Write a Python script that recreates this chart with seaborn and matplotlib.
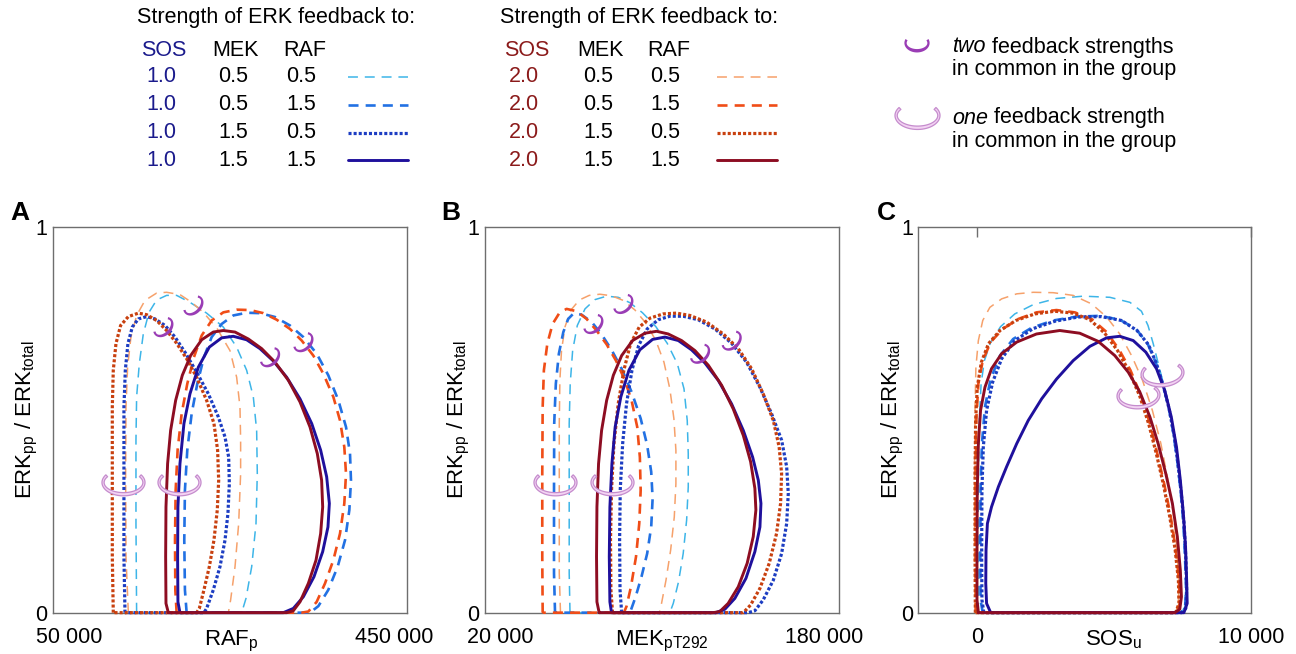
import numpy as np
import seaborn as sns
import matplotlib
matplotlib.use("Agg")
import matplotlib.pyplot as plt
import matplotlib.transforms as mtransforms
from matplotlib.path import Path
from matplotlib.markers import MarkerStyle

sns.set_style("white")
plt.rcParams["font.family"] = ["Liberation Sans", "DejaVu Sans"]
plt.rcParams["mathtext.fontset"] = "custom"
plt.rcParams["mathtext.rm"] = "Liberation Sans"
plt.rcParams["mathtext.it"] = "Liberation Sans:italic"
plt.rcParams["mathtext.bf"] = "Liberation Sans:bold"
plt.rcParams["text.color"] = "black"
plt.rcParams["axes.labelcolor"] = "black"

# feedback strengths of the eight curves (ERK -> SOS, MEK, RAF)
sos_fb = ["1.0", "1.0", "1.0", "1.0", "2.0", "2.0", "2.0", "2.0"]
mek_fb = ["0.5", "0.5", "1.5", "1.5", "0.5", "0.5", "1.5", "1.5"]
raf_fb = ["0.5", "1.5", "0.5", "1.5", "0.5", "1.5", "0.5", "1.5"]
colors = ["#3db5e8", "#2271e3", "#1c3dc2", "#1f109c",
          "#f6a16b", "#f04d17", "#c8400f", "#8d0d22"]
styles = [(0, (6.5, 4.5)), (0, (3.8, 2.7)), (0, (0.95, 0.65)), "-",
          (0, (6.5, 4.5)), (0, (3.8, 2.7)), (0, (0.95, 0.65)), "-"]
widths = [1.1, 1.9, 2.3, 2.1, 1.1, 1.9, 2.3, 2.1]
draw_order = [0, 4, 1, 5, 2, 6, 3, 7]

# ---- panel A: RAF_p (thousands) vs ERKpp/ERKtotal
a_s1_m05_r05 = [(133.2, 0), (132.4, .231), (132.4, .447), (133.2, .559), (136.5, .645), (141.4, .722),
                (148.4, .778), (157.8, .810), (170.1, .822), (182.4, .822), (198.8, .804), (219.3, .776),
                (239.8, .740), (256.2, .688), (268.5, .628), (276.7, .559), (280.8, .472), (281.6, .360),
                (280.0, .231), (274.7, .119), (267.7, .037), (262.4, 0)]
a_s1_m05_r15 = [(194.7, 0), (192.6, .059), (191.8, .188), (192.6, .317), (195.5, .421), (200.9, .516),
                (207.8, .593), (216.0, .662), (225.5, .714), (237.8, .748), (252.1, .770), (268.5, .777),
                (284.9, .776), (303.4, .766), (321.8, .744), (338.2, .714), (354.6, .671), (368.9, .615),
                (381.3, .550), (390.7, .481), (395.6, .412), (396.8, .343), (394.8, .266), (389.5, .188),
                (380.4, .119), (368.9, .059), (356.7, .017), (346.4, 0)]
a_s1_m15_r05 = [(118.9, 0), (117.6, .145), (117.6, .360), (117.6, .533), (119.3, .628), (122.5, .697),
                (127.9, .740), (135.3, .761), (145.5, .767), (155.8, .761), (168.1, .744), (180.4, .714),
                (192.6, .675), (207.0, .623), (221.4, .567), (233.7, .507), (241.9, .455), (246.4, .403),
                (247.2, .334), (245.5, .257), (241.9, .188), (235.7, .119), (227.5, .059), (219.3, .011),
                (216.0, 0)]
a_s1_m15_r15 = [(186.5, 0), (184.0, .028), (183.6, .145), (184.0, .274), (186.5, .386), (191.4, .490),
                (198.8, .567), (209.1, .636), (222.6, .688), (237.8, .712), (252.1, .716), (268.5, .707),
                (284.9, .684), (301.3, .652), (317.7, .610), (334.1, .554), (348.5, .490), (359.5, .421),
                (366.9, .352), (370.2, .283), (368.5, .222), (362.0, .158), (351.3, .093), (338.2, .041),
                (325.9, .011), (313.6, 0)]
a_s2_m05_r05 = [(123.0, 0), (120.1, .145), (119.7, .360), (120.1, .533), (122.1, .636), (126.2, .714),
                (133.2, .770), (143.5, .809), (157.8, .828), (170.1, .830), (186.5, .824), (200.9, .804),
                (215.2, .778), (231.6, .738), (248.0, .679), (256.2, .610), (260.3, .533), (261.1, .447),
                (261.1, .360), (258.7, .231), (254.2, .119), (248.8, .033), (246.0, 0)]
a_s2_m05_r15 = [(182.4, 0), (180.8, .059), (180.4, .188), (181.2, .317), (183.6, .421), (188.6, .516),
                (195.5, .593), (203.7, .662), (213.2, .718), (225.5, .757), (239.8, .778), (256.2, .785),
                (272.6, .784), (289.0, .776), (305.4, .759), (321.8, .735), (336.2, .705), (350.5, .666),
                (362.8, .619), (375.1, .559), (383.3, .498), (388.6, .429), (390.7, .360), (388.6, .283),
                (383.3, .205), (375.1, .136), (364.9, .076), (354.6, .028), (344.4, .003), (336.2, 0)]
a_s2_m15_r05 = [(104.5, 0), (103.3, .145), (103.3, .360), (103.3, .533), (104.5, .628), (107.8, .697),
                (113.5, .744), (123.0, .767), (135.3, .776), (145.5, .772), (157.8, .757), (170.1, .731),
                (182.4, .698), (194.7, .658), (207.0, .610), (219.3, .550), (228.3, .490), (232.8, .421),
                (234.1, .343), (232.4, .266), (228.3, .188), (222.6, .119), (216.0, .059), (210.3, .011),
                (207.0, 0)]
a_s2_m15_r15 = [(172.2, 0), (169.3, .024), (168.9, .145), (169.3, .274), (171.3, .386), (175.0, .472),
                (181.2, .550), (189.4, .615), (199.6, .666), (213.2, .707), (227.5, .727), (239.8, .731),
                (254.2, .727), (270.6, .709), (287.0, .684), (303.4, .649), (319.8, .602), (334.1, .546),
                (346.4, .481), (355.4, .412), (360.7, .343), (362.0, .274), (359.5, .205), (353.8, .136),
                (344.4, .076), (334.1, .028), (325.9, .005), (317.7, 0)]

# ---- panel B: MEK_pT292 (thousands)
b_s1_m05_r05 = [(54.6, 0), (54.2, .102), (54.2, .317), (54.2, .490), (54.7, .593), (55.9, .679),
                (58.2, .744), (62.0, .787), (66.9, .811), (72.7, .820), (78.4, .817), (84.2, .803),
                (90.4, .777), (97.0, .741), (102.6, .698), (107.6, .645), (110.9, .580), (112.5, .498),
                (113.0, .412), (113.0, .326), (112.2, .240), (110.5, .153), (108.2, .080), (105.6, .024),
                (103.9, 0)]
b_s1_m05_r15 = [(47.2, 0), (46.7, .102), (46.7, .317), (46.8, .490), (47.6, .593), (49.1, .671),
                (51.3, .727), (53.7, .761), (56.5, .776), (60.3, .772), (65.3, .753), (70.2, .721),
                (75.1, .681), (80.1, .632), (85.0, .572), (89.5, .503), (92.7, .434), (94.7, .365),
                (95.4, .296), (94.7, .222), (92.7, .153), (89.9, .093), (87.0, .041), (84.7, .007),
                (83.9, 0)]
b_s1_m15_r05 = [(80.1, 0), (79.3, .059), (79.1, .188), (79.4, .317), (80.6, .438), (82.5, .541),
                (85.2, .628), (88.5, .692), (92.7, .735), (98.2, .759), (103.9, .768), (110.5, .768),
                (117.9, .759), (126.2, .735), (134.4, .698), (141.8, .649), (148.4, .584), (154.1, .516),
                (159.1, .447), (161.6, .378), (162.4, .309), (161.6, .231), (159.1, .153), (155.0, .084),
                (150.0, .033), (145.9, .005), (142.6, 0)]
b_s1_m15_r15 = [(75.1, 0), (74.3, .028), (74.0, .145), (74.3, .274), (75.3, .386), (76.9, .481),
                (79.7, .559), (83.7, .628), (89.1, .681), (95.4, .708), (101.5, .714), (108.1, .705),
                (114.6, .681), (121.2, .647), (127.8, .602), (134.4, .541), (140.2, .472), (144.8, .403),
                (147.6, .343), (148.9, .283), (148.4, .222), (145.9, .158), (141.5, .089), (136.0, .037),
                (131.1, .009), (126.6, 0)]
b_s2_m05_r05 = [(49.9, 0), (49.3, .102), (49.3, .317), (49.3, .490), (49.6, .602), (50.4, .679),
                (52.1, .740), (54.9, .783), (59.2, .810), (64.1, .822), (69.4, .825), (75.1, .821),
                (80.9, .809), (86.7, .784), (92.1, .750), (97.0, .705), (101.0, .649), (103.9, .580),
                (105.9, .503), (106.9, .421), (106.9, .334), (106.1, .248), (104.3, .162), (102.0, .084),
                (99.8, .024), (98.7, 0)]
b_s2_m05_r15 = [(41.1, 0), (40.9, .145), (40.9, .360), (41.1, .533), (41.7, .628), (43.4, .697),
                (46.0, .748), (49.3, .776), (52.9, .787), (57.9, .781), (62.8, .761), (67.7, .731),
                (72.7, .695), (77.3, .653), (81.4, .606), (85.0, .550), (87.8, .481), (89.1, .403),
                (89.5, .317), (88.8, .231), (87.2, .145), (84.7, .067), (82.5, .016), (81.2, 0)]
b_s2_m15_r05 = [(75.6, 0), (74.8, .059), (74.6, .188), (75.1, .317), (76.3, .438), (78.4, .541),
                (81.2, .628), (84.5, .697), (88.8, .740), (94.1, .763), (100.6, .774), (107.2, .776),
                (113.8, .770), (122.0, .753), (130.3, .722), (137.7, .684), (144.3, .632), (150.0, .567),
                (155.0, .498), (157.9, .429), (159.1, .360), (158.6, .283), (156.6, .205), (153.0, .128),
                (148.4, .063), (143.8, .020), (140.2, 0)]
b_s2_m15_r15 = [(69.0, 0), (67.9, .028), (67.7, .145), (67.9, .274), (68.7, .386), (70.2, .472),
                (72.7, .550), (76.0, .615), (80.1, .666), (85.5, .705), (91.6, .724), (97.4, .729),
                (103.1, .722), (109.7, .705), (116.3, .679), (122.9, .641), (129.5, .589), (135.2, .528),
                (140.2, .459), (143.8, .391), (145.9, .322), (146.4, .266), (145.1, .197), (142.1, .128),
                (137.7, .067), (132.7, .024), (128.6, .003), (125.3, 0)]

# ---- panel C: SOS_u (thousands)
c_s1_m05_r05 = [(0.06, 0), (0.05, .145), (0.06, .360), (0.10, .507), (0.16, .593), (0.28, .653),
                (0.51, .701), (0.87, .741), (1.39, .774), (2.06, .798), (2.91, .814), (3.89, .820),
                (4.86, .817), (5.59, .804), (6.01, .781), (6.25, .744), (6.44, .697), (6.64, .641),
                (6.86, .580), (7.08, .507), (7.26, .429), (7.41, .343), (7.53, .257), (7.60, .162),
                (7.64, .076), (7.60, .016), (7.47, 0)]
c_s1_m05_r15 = [(0.22, 0), (0.14, .033), (0.13, .145), (0.14, .317), (0.19, .438), (0.30, .533),
                (0.51, .606), (0.85, .666), (1.33, .709), (2.00, .738), (2.79, .757), (3.64, .767),
                (4.49, .769), (5.22, .759), (5.81, .735), (6.23, .698), (6.53, .649), (6.78, .595),
                (7.00, .533), (7.18, .464), (7.33, .386), (7.45, .309), (7.54, .231), (7.60, .145),
                (7.64, .059), (7.60, .011), (7.43, 0)]
c_s1_m15_r05 = [(0.26, 0), (0.19, .033), (0.18, .145), (0.19, .317), (0.24, .429), (0.36, .524),
                (0.58, .597), (0.91, .658), (1.39, .705), (2.06, .736), (2.85, .755), (3.70, .766),
                (4.55, .767), (5.28, .757), (5.85, .731), (6.27, .694), (6.56, .645), (6.80, .590),
                (7.02, .528), (7.20, .459), (7.35, .382), (7.47, .304), (7.57, .227), (7.63, .141),
                (7.66, .059), (7.63, .011), (7.47, 0)]
c_s1_m15_r15 = [(0.51, 0), (0.36, .024), (0.33, .076), (0.34, .162), (0.39, .231), (0.54, .274),
                (0.79, .326), (1.09, .378), (1.46, .438), (1.88, .498), (2.37, .554), (2.91, .605),
                (3.52, .653), (4.13, .690), (4.74, .712), (5.22, .716), (5.71, .705), (6.17, .675),
                (6.56, .632), (6.86, .576), (7.10, .507), (7.29, .429), (7.43, .343), (7.54, .257),
                (7.62, .171), (7.66, .084), (7.68, .024), (7.56, 0)]
c_s2_m05_r05 = [(-0.06, 0), (-0.08, .145), (-0.08, .360), (-0.06, .533), (-0.03, .636), (0.06, .705),
                (0.22, .757), (0.48, .791), (0.91, .813), (1.46, .826), (2.06, .830), (2.79, .829),
                (3.52, .822), (4.19, .800), (4.74, .766), (5.22, .722), (5.65, .666), (6.05, .602),
                (6.41, .524), (6.72, .438), (6.98, .343), (7.19, .248), (7.32, .153), (7.38, .067),
                (7.35, .016), (7.23, 0)]
c_s2_m05_r15 = [(-0.03, 0), (-0.04, .145), (-0.04, .360), (-0.01, .507), (0.06, .593), (0.22, .653),
                (0.51, .701), (0.95, .735), (1.52, .761), (2.18, .778), (2.91, .784), (3.58, .778),
                (4.19, .761), (4.74, .727), (5.20, .681), (5.61, .628), (5.99, .563), (6.32, .490),
                (6.59, .412), (6.84, .334), (7.07, .253), (7.26, .166), (7.38, .084), (7.41, .024),
                (7.29, 0)]
c_s2_m15_r05 = [(-0.05, 0), (-0.06, .145), (-0.06, .360), (-0.04, .498), (0.02, .584), (0.17, .649),
                (0.43, .697), (0.85, .731), (1.43, .757), (2.12, .774), (2.85, .781), (3.52, .776),
                (4.13, .759), (4.67, .724), (5.14, .679), (5.56, .625), (5.95, .561), (6.28, .488),
                (6.56, .410), (6.81, .333), (7.04, .250), (7.24, .164), (7.36, .083), (7.38, .024),
                (7.26, 0)]
c_s2_m15_r15 = [(0.06, 0), (0.01, .033), (0.01, .145), (0.02, .317), (0.06, .438), (0.14, .524),
                (0.30, .584), (0.54, .632), (0.91, .671), (1.46, .701), (2.18, .722), (3.03, .731),
                (3.76, .724), (4.43, .703), (5.04, .666), (5.53, .623), (5.95, .572), (6.32, .507),
                (6.62, .438), (6.90, .360), (7.14, .283), (7.32, .197), (7.43, .110), (7.47, .041),
                (7.41, .009), (7.23, 0)]

# "two / one feedback strengths in common" marks
a_two_x, a_two_y = [202.9, 166.0, 297.2, 338.2], [0.796, 0.740, 0.662, 0.701]
a_one_x, a_one_y = [116.8, 184.9], [0.339, 0.339]
b_two_x, b_two_y = [80.9, 66.1, 118.8, 134.4], [0.800, 0.748, 0.671, 0.705]
b_one_x, b_one_y = [47.2, 75.1], [0.339, 0.339]
c_one_x, c_one_y = [6.76, 5.88], [0.620, 0.563]


def crescent(rxo, ryo, rxi, ryi, a0, a1, n=48):
    t = np.radians(np.linspace(a0, a1, n))
    outer = np.column_stack([rxo * np.cos(t), ryo * np.sin(t)])
    inner = np.column_stack([rxi * np.cos(t[::-1]), ryi * np.sin(t[::-1])])
    verts = np.vstack([outer, inner, outer[:1]])
    codes = np.full(len(verts), Path.LINETO)
    codes[0] = Path.MOVETO
    codes[-1] = Path.CLOSEPOLY
    return Path(verts, codes)


two_path = crescent(1.0, 0.75, 0.82, 0.48, 155, 385)
one_path = crescent(1.0, 0.62, 0.90, 0.47, 145, 395)


def marks(ax, xs, ys, kind, angle, size):
    m = MarkerStyle(two_path if kind == "two" else one_path,
                    transform=mtransforms.Affine2D().rotate_deg(angle))
    if kind == "two":
        ax.scatter(xs, ys, s=size, marker=m, facecolor="#9a3db5", edgecolor="none", zorder=6, clip_on=False)
    else:
        ax.scatter(xs, ys, s=size, marker=m, facecolor="#f3d3f3", edgecolor="#c58ccd",
                   linewidths=0.9, zorder=6, clip_on=False)


fig = plt.figure(figsize=(12.96, 6.54), dpi=100)

# overlay in pixel units for the key and panel letters
ov = fig.add_axes([0, 0, 1, 1])
ov.set_xlim(0, 1296)
ov.set_ylim(654, 0)
ov.axis("off")

key_fs = 15.5
row_y = [77, 105, 133, 160]
for blk, (x0, cols, lx, sos_col) in enumerate([(137, (164, 235, 305), (348, 408), "#1b1b8c"),
                                                 (500, (527, 600, 669), (717, 777), "#8b1a1a")]):
    ov.text(x0, 18, "Strength of ERK feedback to:", fontsize=key_fs, ha="left", va="center")
    ov.text(cols[0], 51, "SOS", color=sos_col, fontsize=key_fs, ha="center", va="center")
    ov.text(cols[1], 51, "MEK", fontsize=key_fs, ha="center", va="center")
    ov.text(cols[2], 51, "RAF", fontsize=key_fs, ha="center", va="center")
    for r in range(4):
        i = blk * 4 + r
        ov.text(cols[0] - 3, row_y[r], sos_fb[i], color=sos_col, fontsize=key_fs, ha="center", va="center")
        ov.text(cols[1] - 2, row_y[r], mek_fb[i], fontsize=key_fs, ha="center", va="center")
        ov.text(cols[2] - 4, row_y[r], raf_fb[i], fontsize=key_fs, ha="center", va="center")
        ov.plot(lx, [row_y[r], row_y[r]], color=colors[i], linestyle=styles[i], linewidth=widths[i])

marks(ov, [917], [43], "two", 0, 330)
t1 = ov.text(952, 47, "two", style="italic", fontsize=key_fs, ha="left", va="center")
ov.annotate(" feedback strengths", xy=(1, 0), xycoords=t1, fontsize=key_fs, ha="left", va="bottom")
ov.text(952, 69, "in common in the group", fontsize=key_fs, ha="left", va="center")
marks(ov, [917], [115], "one", 0, 1050)
t2 = ov.text(952, 118, "one", style="italic", fontsize=key_fs, ha="left", va="center")
ov.annotate(" feedback strength", xy=(1, 0), xycoords=t2, fontsize=key_fs, ha="left", va="bottom")
ov.text(952, 141, "in common in the group", fontsize=key_fs, ha="left", va="center")

for letter, lx in [("A", 20), ("B", 451), ("C", 886)]:
    ov.text(lx, 213, letter, fontsize=19, fontweight="bold", ha="center", va="center")

panels = [
    ([0.0411, 0.0632, 0.2727, 0.5902],
     [a_s1_m05_r05, a_s1_m05_r15, a_s1_m15_r05, a_s1_m15_r15,
      a_s2_m05_r05, a_s2_m05_r15, a_s2_m15_r05, a_s2_m15_r15],
     (30.7, 465.3), [50, 450], ["50 000", "450 000"], r"RAF$_\mathrm{p}$"),
    ([0.3742, 0.0632, 0.2731, 0.5902],
     [b_s1_m05_r05, b_s1_m05_r15, b_s1_m15_r05, b_s1_m15_r15,
      b_s2_m05_r05, b_s2_m05_r15, b_s2_m15_r05, b_s2_m15_r15],
     (12.6, 187.4), [20, 180], ["20 000", "180 000"], r"MEK$_\mathrm{pT292}$"),
    ([0.7086, 0.0632, 0.2565, 0.5902],
     [c_s1_m05_r05, c_s1_m05_r15, c_s1_m15_r05, c_s1_m15_r15,
      c_s2_m05_r05, c_s2_m05_r15, c_s2_m15_r05, c_s2_m15_r15],
     (-2.13, 10.0), [0, 10], ["0", "10 000"], r"SOS$_\mathrm{u}$"),
]

axes = []
for pos, curves, xlim, xt, xtl, xlab in panels:
    ax = fig.add_axes(pos)
    for i in draw_order:
        arr = np.array(curves[i] + [curves[i][0]])
        sns.lineplot(x=arr[:, 0], y=arr[:, 1], sort=False, estimator=None, color=colors[i],
                     linestyle=styles[i], linewidth=widths[i], clip_on=False, zorder=3, ax=ax)
    ax.set_xlim(*xlim)
    ax.set_ylim(0, 1)
    ax.set_xticks(xt, xtl)
    ax.set_yticks([0, 1], ["0", "1"])
    ax.tick_params(axis="both", length=0, labelsize=15.5, labelcolor="black")
    ax.tick_params(axis="x", pad=10)
    ax.tick_params(axis="y", pad=4)
    for sp in ax.spines.values():
        sp.set_color("#6e6e6e")
        sp.set_linewidth(1.0)
    ax.set_xlabel(xlab, fontsize=16)
    ax.xaxis.set_label_coords(np.mean(xt), -0.041,
                              transform=mtransforms.blended_transform_factory(ax.transData, ax.transAxes))
    ax.set_ylabel(r"ERK$_\mathrm{pp}$ / ERK$_\mathrm{total}$", fontsize=16)
    ax.yaxis.set_label_coords(-0.037, 0.5)
    axes.append(ax)

axA, axB, axC = axes
marks(axA, a_two_x, a_two_y, "two", 45, 275)
marks(axA, a_one_x, a_one_y, "one", 0, 960)
marks(axB, b_two_x, b_two_y, "two", 45, 275)
marks(axB, b_one_x, b_one_y, "one", 0, 960)
marks(axC, c_one_x[:1], c_one_y[:1], "one", 5, 960)
marks(axC, c_one_x[1:], c_one_y[1:], "one", 3, 960)
axC.tick_params(axis="x", top=True, bottom=False, direction="in", length=7, width=1,
                color="#6e6e6e", labelbottom=True, labeltop=False)

fig.savefig("out.png", dpi=100)
